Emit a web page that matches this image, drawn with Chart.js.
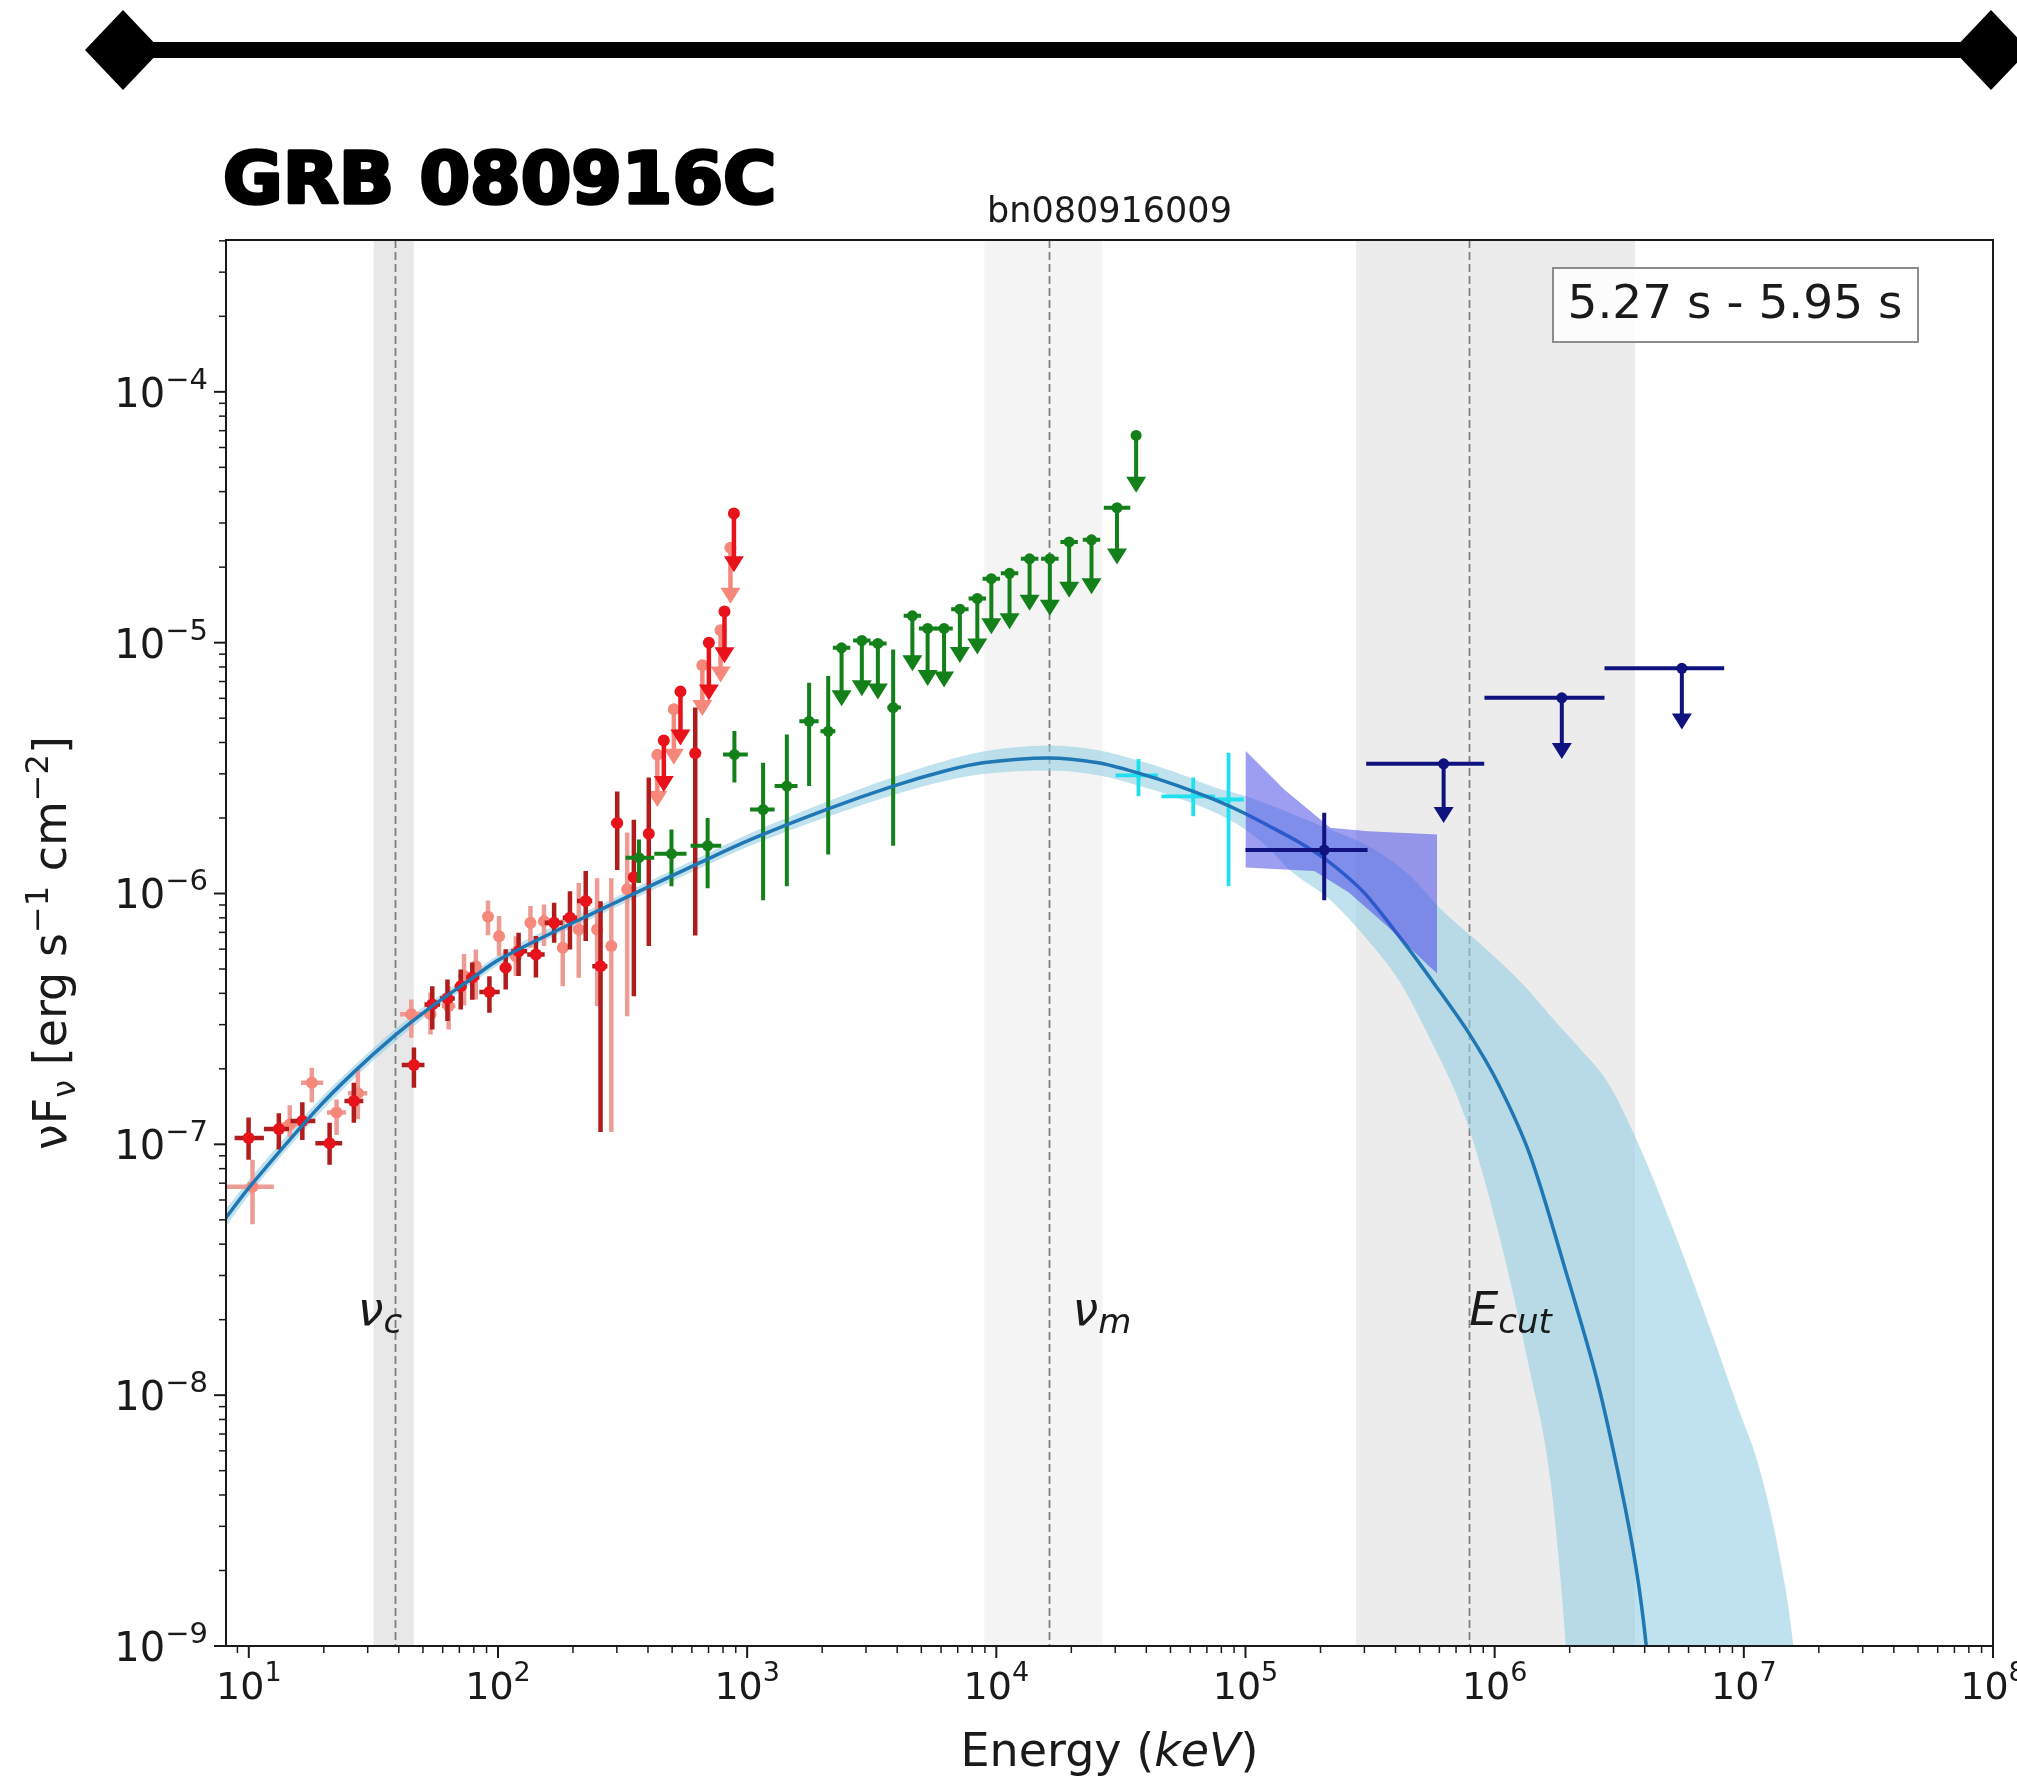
<!DOCTYPE html>
<html>
<head>
<meta charset="utf-8">
<title>GRB 080916C</title>
<script src="https://cdn.jsdelivr.net/npm/chart.js@4.4.1/dist/chart.umd.min.js"></script>
<style>
    html, body { margin: 0; padding: 0; background: #fff; }
    #chart { display: block; }
</style>
</head>
<body>
<canvas id="chart" width="2017" height="1781"></canvas>
<script>
// energy in keV, flux nuFnu in erg s^-1 cm^-2

// best fit model
var modelE = [8.1, 10, 18.5, 26.4, 38.8, 53.5, 76.2, 102.6, 258, 650, 1030, 2075, 3855, 6210, 8850, 16100, 25600, 37200, 53000, 75500, 1e5, 1.28e5, 1.64e5, 2.07e5, 2.6e5, 3.1e5, 4.26e5, 5.74e5, 7.89e5, 1.035e6, 1.39e6, 1.92e6, 2.57e6, 3.2e6, 3.7e6, 4.06e6, 4.4e6];
var modelF = [5.1e-8, 6.71e-8, 1.36e-7, 1.94e-7, 2.73e-7, 3.51e-7, 4.49e-7, 5.5e-7, 8.63e-7, 1.33e-6, 1.64e-6, 2.16e-6, 2.68e-6, 3.08e-6, 3.32e-6, 3.47e-6, 3.32e-6, 3.02e-6, 2.70e-6, 2.36e-6, 2.08e-6, 1.83e-6, 1.6e-6, 1.38e-6, 1.15e-6, 9.7e-7, 6.5e-7, 4.35e-7, 2.77e-7, 1.74e-7, 9.0e-8, 3.17e-8, 1.16e-8, 4.4e-9, 2.03e-9, 1.0e-9, 4e-10];

// model uncertainty band
var bandHiE = [8.1, 10, 18.5, 26.4, 38.8, 53.5, 76.2, 102.6, 258, 650, 1030, 2075, 3855, 6210, 8850, 16100, 25600, 37200, 53000, 75500, 1e5, 2.18e5, 3.10e5, 4.43e5, 6.3e5, 8.97e5, 1.28e6, 1.82e6, 2.22e6, 2.87e6, 3.70e6, 5.33e6, 7.12e6, 9.51e6, 1.14e7, 1.37e7, 1.58e7, 1.75e7];
var bandHiF = [5.53e-8, 7.19e-8, 1.451e-7, 2.054e-7, 2.891e-7, 3.693e-7, 4.70e-7, 5.76e-7, 9.04e-7, 1.40e-6, 1.737e-6, 2.316e-6, 2.905e-6, 3.376e-6, 3.682e-6, 3.893e-6, 3.725e-6, 3.388e-6, 3.029e-6, 2.648e-6, 2.45e-6, 1.80e-6, 1.55e-6, 1.21e-6, 8.38e-7, 6.16e-7, 4.41e-7, 2.96e-7, 2.38e-7, 1.74e-7, 1.05e-7, 4.32e-8, 1.99e-8, 8.83e-9, 5.34e-9, 2.46e-9, 1.01e-9, 3e-10];
var bandLoE = [8.1, 10, 18.5, 26.4, 38.8, 53.5, 76.2, 102.6, 258, 650, 1030, 2075, 3855, 6210, 8850, 16100, 25600, 37200, 53000, 75500, 1e5, 1.25e5, 1.49e5, 2.19e5, 3.09e5, 4.11e5, 5.41e5, 7.64e5, 1.04e6, 1.38e6, 1.67e6, 1.93e6, 2.2e6, 1.75e7];
var bandLoF = [4.70e-8, 6.26e-8, 1.275e-7, 1.832e-7, 2.578e-7, 3.337e-7, 4.288e-7, 5.253e-7, 8.243e-7, 1.264e-6, 1.549e-6, 2.015e-6, 2.472e-6, 2.81e-6, 2.994e-6, 3.093e-6, 2.959e-6, 2.692e-6, 2.406e-6, 2.103e-6, 1.8e-6, 1.5e-6, 1.25e-6, 9.42e-7, 6.53e-7, 4.53e-7, 2.73e-7, 1.27e-7, 4.38e-8, 1.27e-8, 4.65e-9, 1e-9, 1e-10, 1e-14];

// NaI (red)
var redE = [9.98, 13.2, 16.4, 21.1, 26.4, 46.0, 54.5, 62.7, 70.9, 78.9, 92.4, 107.4, 121, 142, 168, 194.5, 225, 258, 301, 351, 403, 619];
var redF = [1.06e-7, 1.15e-7, 1.24e-7, 1.01e-7, 1.49e-7, 2.07e-7, 3.61e-7, 3.81e-7, 4.27e-7, 4.62e-7, 4.05e-7, 5.06e-7, 5.89e-7, 5.71e-7, 7.64e-7, 8.0e-7, 9.33e-7, 5.13e-7, 1.91e-6, 1.16e-6, 1.73e-6, 3.62e-6];
var redFlo = [8.69e-8, 9.53e-8, 1.04e-7, 8.3e-8, 1.22e-7, 1.68e-7, 2.87e-7, 3.1e-7, 3.45e-7, 3.77e-7, 3.35e-7, 4.14e-7, 4.69e-7, 4.62e-7, 6.37e-7, 5.98e-7, 6.46e-7, 1.12e-7, 1.24e-6, 3.89e-7, 6.18e-7, 6.8e-7];
var redFhi = [1.28e-7, 1.33e-7, 1.47e-7, 1.22e-7, 1.76e-7, 2.43e-7, 4.27e-7, 4.54e-7, 4.98e-7, 5.31e-7, 4.68e-7, 5.99e-7, 6.98e-7, 6.77e-7, 9.18e-7, 1.02e-6, 1.23e-6, 9.31e-7, 2.55e-6, 1.97e-6, 2.9e-6, 5.52e-6];
var redElo = [8.77, 11.5, 14.7, 18.5, 24.2, 41.1, 50.7, 58.5, 67.1, 74.7, 84.2, 101.6, 113, 131, 154, 182, 207.5, 239, 285, 335, 385, 600];
var redEhi = [11.5, 14.5, 18.5, 23.7, 28.8, 50.7, 58.5, 67.1, 74.7, 84.2, 101.6, 113, 131, 154, 182, 207.5, 239, 275, 316, 367, 420, 640];
var redUlE = [463, 540, 702, 811, 885];
var redUlF = [4.07e-6, 6.38e-6, 1.0e-5, 1.33e-5, 3.27e-5];
var redUlTip = [2.54e-6, 3.89e-6, 5.88e-6, 8.27e-6, 1.91e-5];

// NaI (salmon)
var salE = [10.35, 14.6, 17.9, 22.5, 27.4, 44.9, 53.6, 63.4, 73.1, 81.5, 91.2, 101, 118, 135, 153, 182, 211, 250, 285, 330];
var salF = [6.78e-8, 1.2e-7, 1.76e-7, 1.34e-7, 1.6e-7, 3.3e-7, 3.3e-7, 3.56e-7, 4.69e-7, 5.13e-7, 8.07e-7, 6.76e-7, 5.62e-7, 7.64e-7, 7.76e-7, 6.08e-7, 7.18e-7, 7.18e-7, 6.17e-7, 1.04e-6];
var salFlo = [4.8e-8, 1.07e-7, 1.47e-7, 1.09e-7, 1.26e-7, 2.66e-7, 2.74e-7, 2.87e-7, 3.58e-7, 3.78e-7, 6.81e-7, 5.63e-7, 4.69e-7, 6.08e-7, 6.17e-7, 4.27e-7, 4.61e-7, 3.56e-7, 1.12e-7, 3.24e-7];
var salFhi = [8.69e-8, 1.43e-7, 2.02e-7, 1.51e-7, 2.02e-7, 3.78e-7, 4.03e-7, 4.27e-7, 5.74e-7, 5.98e-7, 9.37e-7, 8.13e-7, 6.76e-7, 8.91e-7, 9.04e-7, 7.87e-7, 1.1e-6, 1.15e-6, 1.15e-6, 1.75e-6];
var salElo = [8.07, 13.5, 16.2, 20.6, 25.0, 40.4, 50.7, 59.5, 70.0, 78.5, 87.5, 97, 113, 130, 147, 176, 204, 242, 276, 320];
var salEhi = [12.6, 15.7, 19.9, 24.6, 29.9, 49.9, 56.5, 67.5, 76.5, 85, 95, 105, 123, 140, 159, 188, 218, 258, 294, 340];
var salUlE = [436, 508, 661, 782, 857];
var salUlF = [3.57e-6, 5.43e-6, 8.13e-6, 1.12e-5, 2.39e-5];
var salUlTip = [2.21e-6, 3.26e-6, 5.1e-6, 6.93e-6, 1.43e-5];

// BGO (green)
var greenE = [368, 497, 694, 889, 1159, 1443, 1773, 2115, 3855];
var greenF = [1.39e-6, 1.44e-6, 1.55e-6, 3.58e-6, 2.16e-6, 2.68e-6, 4.86e-6, 4.43e-6, 5.51e-6];
var greenFlo = [1.10e-6, 1.07e-6, 1.05e-6, 2.77e-6, 9.4e-7, 1.07e-6, 2.68e-6, 1.43e-6, 1.55e-6];
var greenFhi = [1.64e-6, 1.80e-6, 2.0e-6, 4.44e-6, 3.32e-6, 4.3e-6, 6.92e-6, 7.36e-6, 9.4e-6];
var greenElo = [325, 424, 593, 800, 1026, 1289, 1620, 1969, 3655];
var greenEhi = [424, 571, 787, 1006, 1289, 1593, 1936, 2259, 4140];
var greenUlE = [2393, 2886, 3347, 4604, 5300, 6170, 7140, 8390, 9550, 11300, 13600, 16400, 19600, 24100, 30500, 36400];
var greenUlF = [9.54e-6, 1.02e-5, 9.93e-6, 1.28e-5, 1.14e-5, 1.14e-5, 1.36e-5, 1.50e-5, 1.80e-5, 1.89e-5, 2.16e-5, 2.16e-5, 2.52e-5, 2.57e-5, 3.45e-5, 6.7e-5];
var greenUlTip = [5.58e-6, 6.12e-6, 5.93e-6, 7.7e-6, 6.72e-6, 6.62e-6, 8.3e-6, 8.97e-6, 1.08e-5, 1.13e-5, 1.34e-5, 1.28e-5, 1.51e-5, 1.56e-5, 2.05e-5, 3.96e-5];
var greenUlElo = [2208, 2662, 3088, 4247, 4889, 5692, 6587, 7740, 8810, 10424, 12546, 15129, 18081, 22232, 27000, 36000];
var greenUlEhi = [2594, 3128, 3628, 4991, 5745, 6688, 7740, 9095, 10352, 12249, 14742, 17778, 21246, 26124, 34500, 36800];

// LLE (cyan)
var cyanE = [37200, 61700, 85500];
var cyanF = [2.96e-6, 2.44e-6, 2.37e-6];
var cyanFlo = [2.44e-6, 2.03e-6, 1.07e-6];
var cyanFhi = [3.44e-6, 2.9e-6, 3.64e-6];
var cyanElo = [30100, 46000, 75500];
var cyanEhi = [44500, 75500, 98400];

// LAT (navy)
var latE = [2.07e5];
var latF = [1.49e-6];
var latFlo = [9.4e-7];
var latFhi = [2.1e-6];
var latElo = [1e5];
var latEhi = [3.09e5];
var latUlE = [6.24e5, 1.86e6, 5.64e6];
var latUlF = [3.29e-6, 6.03e-6, 7.9e-6];
var latUlTip = [1.91e-6, 3.44e-6, 4.51e-6];
var latUlElo = [3.05e5, 9.1e5, 2.76e6];
var latUlEhi = [9.08e5, 2.76e6, 8.34e6];

// LAT butterfly
var butterflyHiE = [1e5, 1.43e5, 2.19e5, 3.10e5, 5.87e5];
var butterflyHiF = [3.71e-6, 2.60e-6, 1.83e-6, 1.77e-6, 1.72e-6];
var butterflyLoE = [1e5, 1.89e5, 2.6e5, 3.71e5, 5.46e5, 5.87e5];
var butterflyLoF = [1.27e-6, 1.23e-6, 1.01e-6, 7.41e-7, 5.13e-7, 4.81e-7];

// break energies: shaded range and best value
var nuCRange = [31.7, 45.9];
var nuC = 38.5;
var nuMRange = [8950, 26700];
var nuM = 16200;
var eCutRange = [2.78e5, 3.66e6];
var eCut = 7.9e5;
var breakLabelF = 1.9e-8;

// tick labels (powers of ten)
var xTickExp = [1, 2, 3, 4, 5, 6, 7, 8];
var yTickExp = [-9, -8, -7, -6, -5, -4];

var FONT = '"DejaVu Sans"';

function pts(xs, ys) {
    return xs.map(function (v, i) { return { x: v, y: ys[i] }; });
}

function runsWidth(ctx, runs) {
    var w = 0;
    runs.forEach(function (r) {
        ctx.font = (r.italic ? "italic " : "") + r.size + "px " + FONT;
        w += ctx.measureText(r.t).width;
    });
    return w;
}

function drawRuns(ctx, runs, x, y, align) {
    var w = runsWidth(ctx, runs);
    var cx = x;
    if (align === "center") cx = x - w / 2;
    if (align === "right") cx = x - w;
    ctx.textAlign = "left";
    ctx.textBaseline = "alphabetic";
    runs.forEach(function (r) {
        ctx.font = (r.italic ? "italic " : "") + r.size + "px " + FONT;
        ctx.fillText(r.t, cx, y + (r.dy || 0));
        cx += ctx.measureText(r.t).width;
    });
}

function pow10(e, big) {
    return [{ t: "10", size: big ? 40 : 38 }, { t: String(e).replace("-", "\u2212"), size: big ? 29 : 27, dy: -18 }];
}

function drawBars(chart, b) {
    var ctx = chart.ctx, a = chart.chartArea;
    var x = chart.scales.x, y = chart.scales.y;
    ctx.save();
    ctx.beginPath();
    ctx.rect(a.left, a.top, a.right - a.left, a.bottom - a.top);
    ctx.clip();
    ctx.strokeStyle = b.color;
    ctx.fillStyle = b.color;
    ctx.lineWidth = b.width;
    b.e.forEach(function (e, i) {
        var px = x.getPixelForValue(e);
        var py = y.getPixelForValue(b.f[i]);
        ctx.beginPath();
        if (b.elo) {
            ctx.moveTo(x.getPixelForValue(b.elo[i]), py);
            ctx.lineTo(x.getPixelForValue(b.ehi[i]), py);
        }
        if (b.flo) {
            ctx.moveTo(px, y.getPixelForValue(b.fhi[i]));
            ctx.lineTo(px, y.getPixelForValue(b.flo[i]));
        }
        var pt;
        if (b.tip) {
            pt = y.getPixelForValue(b.tip[i]);
            ctx.moveTo(px, py);
            ctx.lineTo(px, pt - 10);
        }
        ctx.stroke();
        if (b.tip) {
            ctx.beginPath();
            ctx.moveTo(px - 10, pt - 16);
            ctx.lineTo(px + 10, pt - 16);
            ctx.lineTo(px, pt);
            ctx.closePath();
            ctx.fill();
        }
    });
    ctx.restore();
}

var sedPlugin = {
    id: "sed",
    beforeDatasetsDraw: function (chart) {
        var ctx = chart.ctx, a = chart.chartArea;
        var x = chart.scales.x;
        var spans = [
            { r: nuCRange, v: nuC, color: "#e8e8e8" },
            { r: nuMRange, v: nuM, color: "#f4f4f4" },
            { r: eCutRange, v: eCut, color: "#ececec" }
        ];
        ctx.save();
        spans.forEach(function (s) {
            var x0 = x.getPixelForValue(s.r[0]), x1 = x.getPixelForValue(s.r[1]);
            ctx.fillStyle = s.color;
            ctx.fillRect(x0, a.top, x1 - x0, a.bottom - a.top);
        });
        ctx.strokeStyle = "#808080";
        ctx.lineWidth = 1.8;
        ctx.setLineDash([8, 4]);
        spans.forEach(function (s) {
            var px = Math.round(x.getPixelForValue(s.v)) + 0.5;
            ctx.beginPath();
            ctx.moveTo(px, a.top);
            ctx.lineTo(px, a.bottom);
            ctx.stroke();
        });
        ctx.restore();
    },
    beforeDatasetDraw: function (chart, args) {
        var ds = chart.data.datasets[args.index];
        if (ds.bars) drawBars(chart, ds.bars);
    },
    afterDraw: function (chart) {
        var ctx = chart.ctx, a = chart.chartArea;
        var x = chart.scales.x, y = chart.scales.y;
        ctx.save();
        ctx.fillStyle = "#000";
        ctx.strokeStyle = "#000";

        // header rule with diamonds
        ctx.fillRect(121, 42, 1870, 16);
        [123, 1991].forEach(function (cx) {
            ctx.beginPath();
            ctx.moveTo(cx - 38, 50);
            ctx.lineTo(cx, 10);
            ctx.lineTo(cx + 38, 50);
            ctx.lineTo(cx, 90);
            ctx.closePath();
            ctx.fill();
        });

        // burst name
        ctx.save();
        ctx.translate(223, 203);
        ctx.scale(1.01, 1);
        ctx.font = "bold 72px " + FONT;
        ctx.textAlign = "left";
        ctx.textBaseline = "alphabetic";
        ctx.lineWidth = 3.5;
        ctx.lineJoin = "round";
        ctx.fillText("GRB 080916C", 0, 0);
        ctx.strokeText("GRB 080916C", 0, 0);
        ctx.restore();

        // axes title
        ctx.fillStyle = "#1a1a1a";
        drawRuns(ctx, [{ t: "bn080916009", size: 35 }], (a.left + a.right) / 2, 222, "center");

        // frame
        ctx.lineWidth = 2;
        ctx.strokeStyle = "#1a1a1a";
        ctx.strokeRect(a.left, a.top, a.right - a.left, a.bottom - a.top);

        // ticks
        var n, m, v, p;
        for (n = 0; n <= 8; n++) {
            for (m = 1; m <= 9; m++) {
                v = m * Math.pow(10, n);
                if (v < x.min || v > x.max) continue;
                p = x.getPixelForValue(v);
                ctx.lineWidth = m === 1 ? 2 : 1.5;
                ctx.beginPath();
                ctx.moveTo(p, a.bottom);
                ctx.lineTo(p, a.bottom + (m === 1 ? 12 : 7));
                ctx.stroke();
            }
        }
        for (n = -10; n <= -4; n++) {
            for (m = 1; m <= 9; m++) {
                v = m * Math.pow(10, n);
                if (v < y.min || v > y.max * 1.0001) continue;
                p = y.getPixelForValue(v);
                ctx.lineWidth = m === 1 ? 2 : 1.5;
                ctx.beginPath();
                ctx.moveTo(a.left, p);
                ctx.lineTo(a.left - (m === 1 ? 12 : 7), p);
                ctx.stroke();
            }
        }

        // tick labels
        xTickExp.forEach(function (e) {
            drawRuns(ctx, pow10(e, false), x.getPixelForValue(Math.pow(10, e)), 1699, "center");
        });
        yTickExp.forEach(function (e) {
            drawRuns(ctx, pow10(e, true), 208, y.getPixelForValue(Math.pow(10, e)) + 15, "right");
        });

        // axis labels
        drawRuns(ctx, [{ t: "Energy (", size: 46 }, { t: "keV", size: 46, italic: true }, { t: ")", size: 46 }],
            (a.left + a.right) / 2, 1766, "center");
        ctx.save();
        ctx.translate(66, (a.top + a.bottom) / 2);
        ctx.rotate(-Math.PI / 2);
        drawRuns(ctx, [
            { t: "\u03bdF", size: 46 },
            { t: "\u03bd", size: 32, dy: 9 },
            { t: " [erg s", size: 46 },
            { t: "\u22121", size: 32, dy: -18 },
            { t: " cm", size: 46 },
            { t: "\u22122", size: 32, dy: -18 },
            { t: "]", size: 46 }
        ], 0, 0, "center");
        ctx.restore();

        // break labels
        var ly = y.getPixelForValue(breakLabelF);
        drawRuns(ctx, [{ t: "\u03bd", size: 46, italic: true }, { t: "c", size: 34, italic: true, dy: 8 }],
            x.getPixelForValue(nuC) - 37, ly, "left");
        drawRuns(ctx, [{ t: "\u03bd", size: 46, italic: true }, { t: "m", size: 34, italic: true, dy: 8 }],
            x.getPixelForValue(nuM) + 24, ly, "left");
        drawRuns(ctx, [{ t: "E", size: 46, italic: true }, { t: "cut", size: 34, italic: true, dy: 8 }],
            x.getPixelForValue(eCut), ly, "left");

        // time interval box
        ctx.fillStyle = "rgba(255,255,255,0.85)";
        ctx.fillRect(1553, 268, 365, 74);
        ctx.strokeStyle = "#8c8c8c";
        ctx.lineWidth = 2;
        ctx.strokeRect(1553, 268, 365, 74);
        ctx.fillStyle = "#1a1a1a";
        drawRuns(ctx, [{ t: "5.27 s - 5.95 s", size: 47 }], 1735, 318, "center");
        ctx.restore();
    }
};

function pointSet(label, e, f, color, radius, order, bars) {
    return {
        label: label,
        data: pts(e, f),
        showLine: false,
        pointRadius: radius,
        pointHoverRadius: radius,
        pointBackgroundColor: color,
        pointBorderWidth: 0,
        order: order,
        bars: bars
    };
}

var RED = "#e8121a", RED_BAR = "#b01c1c";
var SAL = "#f5877b", SAL_BAR = "#ec9c94";
var GREEN = "#13801a", CYAN = "#1fe0ee", NAVY = "#10137f";

var datasets = [
    {
        label: "band upper",
        data: pts(bandHiE, bandHiF),
        showLine: true, borderWidth: 0, pointRadius: 0, fill: false,
        cubicInterpolationMode: "monotone", order: 20
    },
    {
        label: "band lower",
        data: pts(bandLoE, bandLoF),
        showLine: true, borderWidth: 0, pointRadius: 0, fill: "-1",
        backgroundColor: "rgba(150, 205, 226, 0.6)",
        cubicInterpolationMode: "monotone", order: 19
    },
    pointSet("NaI b", salE, salF, SAL, 6, 12,
        { e: salE, f: salF, flo: salFlo, fhi: salFhi, elo: salElo, ehi: salEhi, color: SAL_BAR, width: 4.5 }),
    pointSet("NaI b UL", salUlE, salUlF, SAL, 6, 12,
        { e: salUlE, f: salUlF, tip: salUlTip, color: SAL, width: 4.5 }),
    pointSet("NaI a", redE, redF, RED, 6, 11,
        { e: redE, f: redF, flo: redFlo, fhi: redFhi, elo: redElo, ehi: redEhi, color: RED_BAR, width: 4.5 }),
    pointSet("NaI a UL", redUlE, redUlF, RED, 6, 11,
        { e: redUlE, f: redUlF, tip: redUlTip, color: RED, width: 4.5 }),
    pointSet("BGO", greenE, greenF, GREEN, 5.5, 10,
        { e: greenE, f: greenF, flo: greenFlo, fhi: greenFhi, elo: greenElo, ehi: greenEhi, color: GREEN, width: 4 }),
    pointSet("BGO UL", greenUlE, greenUlF, GREEN, 5.5, 10,
        { e: greenUlE, f: greenUlF, tip: greenUlTip, elo: greenUlElo, ehi: greenUlEhi, color: GREEN, width: 4 }),
    pointSet("LLE", cyanE, cyanF, CYAN, 3, 9,
        { e: cyanE, f: cyanF, flo: cyanFlo, fhi: cyanFhi, elo: cyanElo, ehi: cyanEhi, color: CYAN, width: 3.8 }),
    {
        label: "model",
        data: pts(modelE, modelF),
        showLine: true, borderColor: "#1f77b4", borderWidth: 3.5, pointRadius: 0, fill: false,
        tension: 0.3, order: 8
    },
    {
        label: "butterfly upper",
        data: pts(butterflyHiE, butterflyHiF),
        showLine: true, borderWidth: 0, pointRadius: 0, fill: false, tension: 0, order: 7
    },
    {
        label: "butterfly lower",
        data: pts(butterflyLoE, butterflyLoF),
        showLine: true, borderWidth: 0, pointRadius: 0, fill: "-1",
        backgroundColor: "rgba(60, 60, 230, 0.5)", tension: 0, order: 6
    },
    pointSet("LAT", latE, latF, NAVY, 5.5, 5,
        { e: latE, f: latF, flo: latFlo, fhi: latFhi, elo: latElo, ehi: latEhi, color: NAVY, width: 4 }),
    pointSet("LAT UL", latUlE, latUlF, NAVY, 5.5, 5,
        { e: latUlE, f: latUlF, tip: latUlTip, elo: latUlElo, ehi: latUlEhi, color: NAVY, width: 4 })
];

new Chart(document.getElementById("chart"), {
    type: "scatter",
    data: { datasets: datasets },
    options: {
        responsive: false,
        animation: false,
        devicePixelRatio: 1,
        layout: { padding: { left: 0, right: 24, top: 240, bottom: 0 } },
        plugins: {
            legend: { display: false },
            tooltip: { enabled: false }
        },
        scales: {
            x: {
                type: "logarithmic",
                min: 8.1,
                max: 1e8,
                grid: { display: false },
                border: { display: false },
                ticks: { display: false },
                afterFit: function (scale) { scale.height = 135; }
            },
            y: {
                type: "logarithmic",
                min: 1e-9,
                max: 4.03e-4,
                grid: { display: false },
                border: { display: false },
                ticks: { display: false },
                afterFit: function (scale) { scale.width = 226; }
            }
        }
    },
    plugins: [sedPlugin]
});
</script>
</body>
</html>
